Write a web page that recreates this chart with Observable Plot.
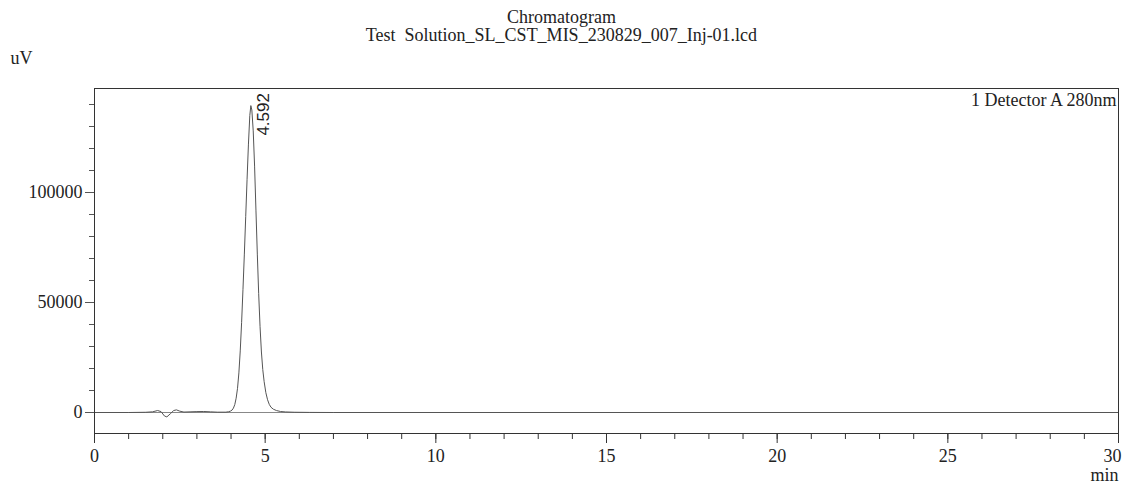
<!DOCTYPE html>
<html><head><meta charset="utf-8">
<script src="https://cdn.jsdelivr.net/npm/d3@7"></script>
<script src="https://cdn.jsdelivr.net/npm/@observablehq/plot@0.6"></script>
<style>
html,body{margin:0;padding:0;background:#fff;}
#wrap{width:1123px;height:485px;position:relative;overflow:hidden;background:#fff;}
#title{height:48px;box-sizing:border-box;padding-top:8px;text-align:center;font-family:"Liberation Serif",serif;font-size:18px;line-height:18px;color:#222;white-space:pre;}
#chart svg{display:block;}
</style></head>
<body>
<div id="wrap">
  <div id="title"><div>Chromatogram</div><div>Test  Solution_SL_CST_MIS_230829_007_Inj-01.lcd</div></div>
  <div id="chart"></div>
</div>
<script>
// Retention time (min)
const times = [0, 1.0, 1.5, 1.7, 1.85, 1.95, 2.05, 2.12, 2.22, 2.32, 2.40, 2.50, 2.62, 2.80, 3.00, 3.20, 3.40, 3.60,
  3.85, 3.93, 3.98, 4.03, 4.07, 4.11, 4.15, 4.19, 4.23, 4.27, 4.31, 4.35, 4.39, 4.43, 4.47, 4.51, 4.55, 4.58,
  4.61, 4.65, 4.69, 4.73, 4.77, 4.81, 4.85, 4.89, 4.93, 4.97, 5.02, 5.07, 5.12, 5.17, 5.24, 5.33, 5.45, 5.60, 5.85, 6.30, 7.00, 30];
// Detector signal (uV)
const signal = [0, 0, 100, 300, 900, 400, -1600, -2000, -600, 900, 1200, 600, 200, 300, 400, 450, 300, 150,
  150, 350, 600, 1100, 2000, 3600, 6500, 11000, 18000, 28000, 41000, 56000, 72000, 89000, 106000, 122000, 135000, 139500,
  137500, 128000, 112000, 92000, 72000, 54000, 39000, 27500, 19500, 14000, 9000, 5800, 3700, 2400, 1500, 900, 450, 250, 120, 40, 0, 0];
// Peak annotations
const peakTimes = [4.592];
const peakHeights = [139500];
const peakNames = ["4.592"];
// Axis ticks
const xMajorTicks = [0, 5, 10, 15, 20, 25, 30];
const xInnerLabels = [0, 5, 10, 15, 20, 25];
const xEndLabel = [30];
const xMinorTicks = d3.range(0, 31, 1);
const yMajorTicks = [0, 50000, 100000];
const yMinorTicks = d3.range(0, 140001, 10000);
const detectorLabel = ["1 Detector A 280nm"];
const yUnit = ["uV"];
const xUnit = ["min"];

const data = times.map((t, i) => ({t, v: signal[i]}));
const peaks = peakTimes.map((t, i) => ({t, v: peakHeights[i], label: peakNames[i]}));

const serif = '"Liberation Serif", "Times New Roman", serif';
const plot = Plot.plot({
  width: 1123, height: 437,
  marginTop: 40, marginBottom: 52, marginLeft: 94, marginRight: 5,
  x: {domain: [0, 30]},
  y: {domain: [-9545, 147273]},
  style: {fontFamily: serif, fontSize: "18px", color: "#222", background: "#fff", overflow: "visible"},
  marks: [
    Plot.ruleY([0], {stroke: "#888", strokeWidth: 1}),
    Plot.line(data, {x: "t", y: "v", stroke: "#555", strokeWidth: 1}),
    Plot.frame({stroke: "#333"}),
    Plot.axisX(xMinorTicks, {tickSize: 6, tickFormat: () => "", label: null, stroke: "#333"}),
    Plot.axisX(xMajorTicks, {tickSize: 10, tickFormat: () => "", label: null, stroke: "#333"}),
    Plot.axisX(xInnerLabels, {tickSize: 0, tickPadding: 16, label: null, fill: "#222", fontSize: 18}),
    Plot.axisX(xEndLabel, {tickSize: 0, tickPadding: 16, label: null, fill: "#222", fontSize: 18, textAnchor: "end", dx: 3}),
    Plot.axisY(yMinorTicks, {tickSize: 5, tickFormat: () => "", label: null, stroke: "#555"}),
    Plot.axisY(yMajorTicks, {tickSize: 9, tickPadding: 3, tickFormat: d3.format("d"), label: null, stroke: "#555", fill: "#222", fontSize: 18}),
    Plot.text(peaks, {x: "t", y: "v", text: "label", rotate: -90, textAnchor: "start", dx: 12, dy: 30,
      fontFamily: '"Liberation Sans", Arial, sans-serif', fontSize: 17, fill: "#222"}),
    Plot.text(detectorLabel, {text: d => d, frameAnchor: "top-right", dx: -2, dy: 17, lineAnchor: "bottom", textAnchor: "end", fill: "#222", fontSize: 18}),
    Plot.text(yUnit, {text: d => d, frameAnchor: "top-left", dx: -84, dy: -25, lineAnchor: "bottom", textAnchor: "start", fill: "#222", fontSize: 18}),
    Plot.text(xUnit, {text: d => d, frameAnchor: "bottom-right", dx: 0, dy: 47, lineAnchor: "bottom", textAnchor: "end", fill: "#222", fontSize: 18})
  ]
});
document.getElementById("chart").appendChild(plot);
</script>
</body></html>
